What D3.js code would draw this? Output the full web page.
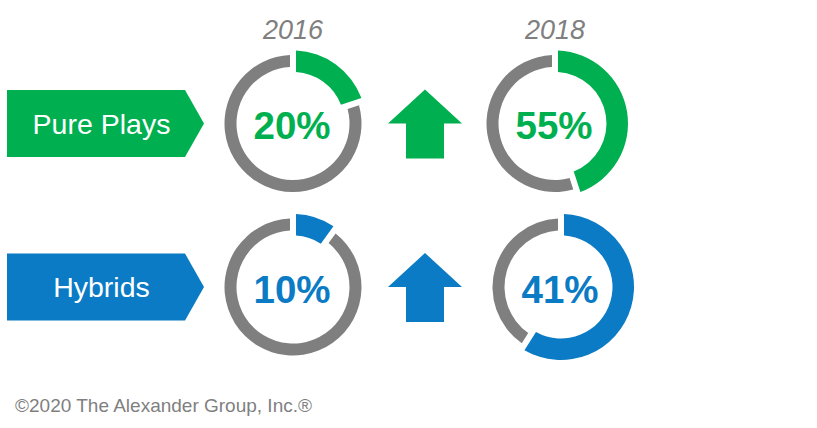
<!DOCTYPE html>
<html>
<head>
<meta charset="utf-8">
<script src="https://cdn.jsdelivr.net/npm/d3@7"></script>
<style>
  html, body { margin: 0; padding: 0; background: #fff; }
  svg { display: block; font-family: Arial, "Liberation Sans", sans-serif; }
</style>
</head>
<body>
<svg id="chart" width="817" height="428"></svg>
<script>
// chart data
var segments = ["Pure Plays", "Hybrids"];
var years = ["2016", "2018"];
var share2016 = [20, 10];
var share2018 = [55, 41];
// how far the coloured ring is filled in the picture (the 2018 rings do not follow their labels)
var ring2016 = [20, 10];
var ring2018 = [45, 59];
var segmentColors = ["#00b050", "#0a7bc4"];
var footnote = "\u00a92020 The Alexander Group, Inc.\u00ae";

var grey = "#7f7f7f";

var svg = d3.select("#chart");

// layout
var yRow = d3.scalePoint().domain(segments).range([123.5, 287]);
var xCol = d3.scalePoint().domain(years).range([293, 555]);
var colShift = [0, 6];   // second donut column sits a little right on the lower row

var angle = d3.scaleLinear().domain([0, 100]).range([0, 2 * Math.PI]);

var greyArc = d3.arc()
    .innerRadius(56.5)
    .outerRadius(68.5)
    .padAngle(0.06)
    .padRadius(100);

var valueArc = d3.arc()
    .innerRadius(51.5)
    .outerRadius(73)
    .padAngle(0.06)
    .padRadius(100);

// year headers
svg.selectAll(".year")
    .data(years)
    .enter()
    .append("text")
    .attr("class", "year")
    .attr("x", function (d) { return xCol(d); })
    .attr("y", 38.5)
    .attr("text-anchor", "middle")
    .attr("font-size", 27)
    .attr("font-style", "italic")
    .attr("fill", grey)
    .text(function (d) { return d; });

segments.forEach(function (seg, i) {
    var cy = yRow(seg);
    var color = segmentColors[i];

    // banner with pointed right end
    var top = cy - 33.5, bot = cy + 33.5;
    svg.append("path")
        .attr("d", "M7," + top + "L185," + top + "L204," + cy + "L185," + bot + "L7," + bot + "Z")
        .attr("fill", color);

    svg.append("text")
        .attr("x", 101.5)
        .attr("y", cy + 10)
        .attr("text-anchor", "middle")
        .attr("font-size", 28.5)
        .attr("fill", "#fff")
        .text(seg);

    // up arrow
    var ax = 425, tip = cy - 34, wing = cy, base = cy + 35;
    svg.append("path")
        .attr("d", "M" + ax + "," + tip + "L" + (ax + 37) + "," + wing + "L" + (ax + 19) + "," + wing +
            "L" + (ax + 19) + "," + base + "L" + (ax - 19) + "," + base + "L" + (ax - 19) + "," + wing +
            "L" + (ax - 37) + "," + wing + "Z")
        .attr("fill", color);

    // donuts
    var labels = [share2016[i], share2018[i]];
    var rings = [ring2016[i], ring2018[i]];
    labels.forEach(function (v, j) {
        var cx = xCol(years[j]) + (j === 1 ? colShift[i] : 0);
        var g = svg.append("g").attr("transform", "translate(" + cx + "," + cy + ")");
        var r = rings[j];

        g.append("path")
            .attr("d", greyArc({startAngle: angle(r), endAngle: angle(100)}))
            .attr("fill", grey);

        g.append("path")
            .attr("d", valueArc({startAngle: angle(0), endAngle: angle(r)}))
            .attr("fill", color);

        g.append("text")
            .attr("x", -1)
            .attr("y", 15.5)
            .attr("text-anchor", "middle")
            .attr("font-size", 38.5)
            .attr("font-weight", "bold")
            .attr("fill", color)
            .text(v + "%");
    });
});

svg.append("text")
    .attr("x", 15)
    .attr("y", 412)
    .attr("font-size", 19)
    .attr("fill", grey)
    .text(footnote);
</script>
</body>
</html>
